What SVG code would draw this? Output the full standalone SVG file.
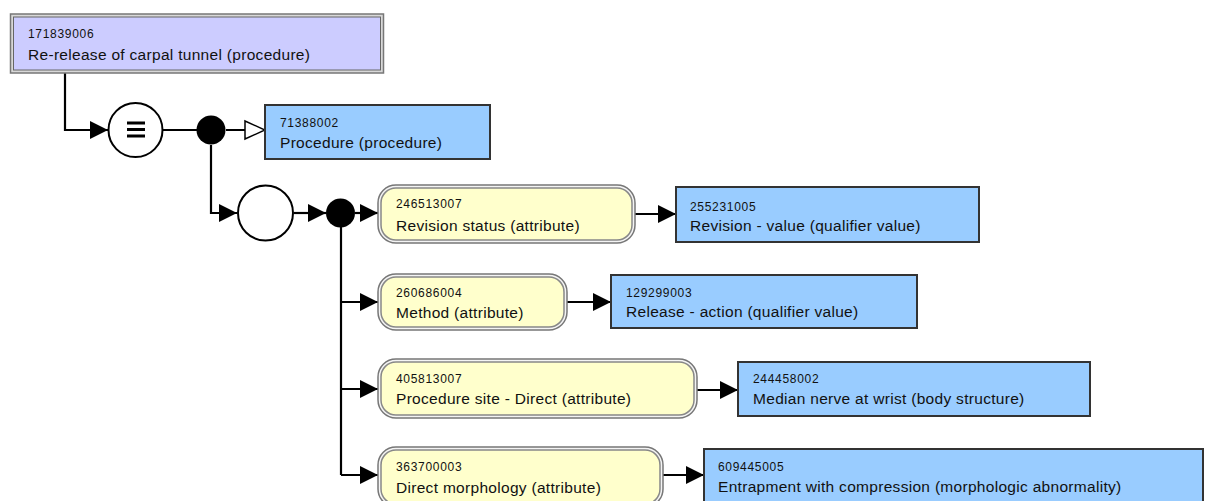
<svg xmlns="http://www.w3.org/2000/svg" width="1216" height="501" viewBox="0 0 1216 501">
<style>
.id{font-family:"Liberation Sans",Arial,sans-serif;font-size:12px;letter-spacing:0.7px;fill:#111}
.lb{font-family:"Liberation Sans",Arial,sans-serif;font-size:15.5px;letter-spacing:0.3px;fill:#111}
.blue{fill:#99ccff;stroke:#333;stroke-width:2}
.yo{fill:#f4f4f4;stroke:#777;stroke-width:1.5}
.yi{fill:#ffffcc;stroke:#888;stroke-width:1.5}
.con{fill:none;stroke:#000;stroke-width:2.2}
</style>
<defs>
<marker id="arr" viewBox="0 0 18 18" refX="18" refY="9" markerWidth="18" markerHeight="18" markerUnits="userSpaceOnUse" orient="auto">
<path d="M0,0 L18,9 L0,18 z" fill="#000"/>
</marker>
<marker id="harr" viewBox="0 0 22 22" refX="21" refY="11" markerWidth="22" markerHeight="22" markerUnits="userSpaceOnUse" orient="auto">
<path d="M1,2 L21,11 L1,20 z" fill="#fff" stroke="#000" stroke-width="1.5"/>
</marker>
</defs>
<rect width="1216" height="501" fill="#fff"/>
<g id="connectors">
<path class="con" d="M65,73 V130 H108" marker-end="url(#arr)"/>
<path class="con" d="M163,130 H197"/>
<path class="con" d="M226,130 H265" marker-end="url(#harr)"/>
<path class="con" d="M211,145 V213 H237" marker-end="url(#arr)"/>
<path class="con" d="M294,213 H326" marker-end="url(#arr)"/>
<path class="con" d="M355,213 H378" marker-end="url(#arr)"/>
<path class="con" d="M341,227 V475"/>
<path class="con" d="M341,302 H378" marker-end="url(#arr)"/>
<path class="con" d="M341,389 H378" marker-end="url(#arr)"/>
<path class="con" d="M341,475 H378" marker-end="url(#arr)"/>
<path class="con" d="M635,214 H676" marker-end="url(#arr)"/>
<path class="con" d="M567,302 H611" marker-end="url(#arr)"/>
<path class="con" d="M697,390 H738" marker-end="url(#arr)"/>
<path class="con" d="M663,475 H704" marker-end="url(#arr)"/>
</g>
<g id="n171839006">
<rect x="10.5" y="14" width="373" height="59" fill="#d8d8d8" stroke="#777" stroke-width="1.5"/>
<rect x="13.5" y="17" width="367" height="53" fill="#ccccff" stroke="#666" stroke-width="1"/>
<text class="id" x="28" y="38">171839006</text>
<text class="lb" x="28" y="60">Re-release of carpal tunnel (procedure)</text>
</g>
<g id="equiv">
<circle cx="135.5" cy="130" r="27" fill="#fff" stroke="#000" stroke-width="2"/>
<path d="M127,123 H145 M127,129.5 H145 M127,136 H145" stroke="#000" stroke-width="3" fill="none"/>
</g>
<g id="conj1"><circle cx="211" cy="130" r="14.5" fill="#000"/></g>
<g id="n71388002">
<rect class="blue" x="265" y="105" width="225" height="54"/>
<text class="id" x="280" y="127">71388002</text>
<text class="lb" x="280" y="148">Procedure (procedure)</text>
</g>
<g id="group1"><circle cx="265.5" cy="213" r="27.5" fill="#fff" stroke="#000" stroke-width="2"/></g>
<g id="conj2"><circle cx="340.5" cy="213" r="14.5" fill="#000"/></g>
<g id="n246513007">
<rect class="yo" x="378" y="185" width="257" height="58" rx="18"/>
<rect class="yi" x="381" y="188" width="251" height="52" rx="15"/>
<text class="id" x="396" y="208">246513007</text>
<text class="lb" x="396" y="231">Revision status (attribute)</text>
</g>
<g id="n255231005">
<rect class="blue" x="676" y="187" width="303" height="55"/>
<text class="id" x="690" y="211">255231005</text>
<text class="lb" x="690" y="231">Revision - value (qualifier value)</text>
</g>
<g id="n260686004">
<rect class="yo" x="378" y="274" width="189" height="56" rx="18"/>
<rect class="yi" x="381" y="277" width="183" height="50" rx="15"/>
<text class="id" x="396" y="297">260686004</text>
<text class="lb" x="396" y="318">Method (attribute)</text>
</g>
<g id="n129299003">
<rect class="blue" x="611" y="275" width="306" height="53"/>
<text class="id" x="626" y="297">129299003</text>
<text class="lb" x="626" y="317">Release - action (qualifier value)</text>
</g>
<g id="n405813007">
<rect class="yo" x="378" y="359" width="319" height="59" rx="18"/>
<rect class="yi" x="381" y="362" width="313" height="53" rx="15"/>
<text class="id" x="396" y="383">405813007</text>
<text class="lb" x="396" y="404">Procedure site - Direct (attribute)</text>
</g>
<g id="n244458002">
<rect class="blue" x="738" y="362" width="352" height="54"/>
<text class="id" x="753" y="383">244458002</text>
<text class="lb" x="753" y="404">Median nerve at wrist (body structure)</text>
</g>
<g id="n363700003">
<rect class="yo" x="378" y="447" width="285" height="60" rx="18"/>
<rect class="yi" x="381" y="450" width="279" height="54" rx="15"/>
<text class="id" x="396" y="471">363700003</text>
<text class="lb" x="396" y="493">Direct morphology (attribute)</text>
</g>
<g id="n609445005">
<rect class="blue" x="704" y="449" width="499" height="56"/>
<text class="id" x="718" y="471">609445005</text>
<text class="lb" x="718" y="492">Entrapment with compression (morphologic abnormality)</text>
</g>
</svg>
